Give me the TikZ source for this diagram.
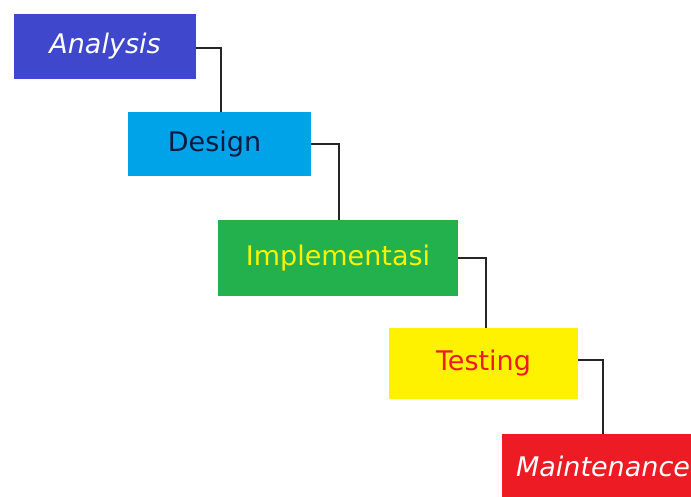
\documentclass[tikz,border=0pt]{standalone}
\usepackage{fontspec}
\setmainfont{DejaVu Sans}
\definecolor{cAna}{HTML}{3F48CC}
\definecolor{cDes}{HTML}{00A2E8}
\definecolor{cImp}{HTML}{22B14C}
\definecolor{cTes}{HTML}{FFF200}
\definecolor{cMai}{HTML}{ED1C24}
\definecolor{cDesTxt}{HTML}{0A1A40}
\tikzset{
  phase/.style={rectangle, inner sep=0pt, font=\fontsize{27}{32}\selectfont},
  link/.style={draw=black!85, line width=2.4pt},
}
\begin{document}
\begin{tikzpicture}[x=1pt,y=-1pt]
\clip (0,0) rectangle (691,497);
\fill[white] (0,0) rectangle (691,497);
\node[phase, fill=cAna, text=white, minimum width=182pt, minimum height=65pt] (ana) at (105,46.5) {\itshape Analysis};
\node[phase, fill=cDes, text=cDesTxt, minimum width=183pt, minimum height=64pt] (des) at (219.5,144) {Design\kern10pt\relax};
\node[phase, fill=cImp, text=cTes, minimum width=240pt, minimum height=76pt] (imp) at (338,258) {Implementasi};
\node[phase, fill=cTes, text=cMai, minimum width=189pt, minimum height=71pt] (tes) at (483.5,363.5) {Testing};
\node[phase, fill=cMai, text=white, minimum width=202pt, minimum height=64pt] (mai) at (603,466) {\itshape Maintenance};
\draw[link] ([yshift=-1.5pt]ana.east) -| ([xshift=1.5pt]des.north);
\draw[link] (des.east) -| ([xshift=1pt]imp.north);
\draw[link] (imp.east) -| ([xshift=2.5pt]tes.north);
\draw[link] ([yshift=3.5pt]tes.east) -| (mai.north);
\end{tikzpicture}
\end{document}
